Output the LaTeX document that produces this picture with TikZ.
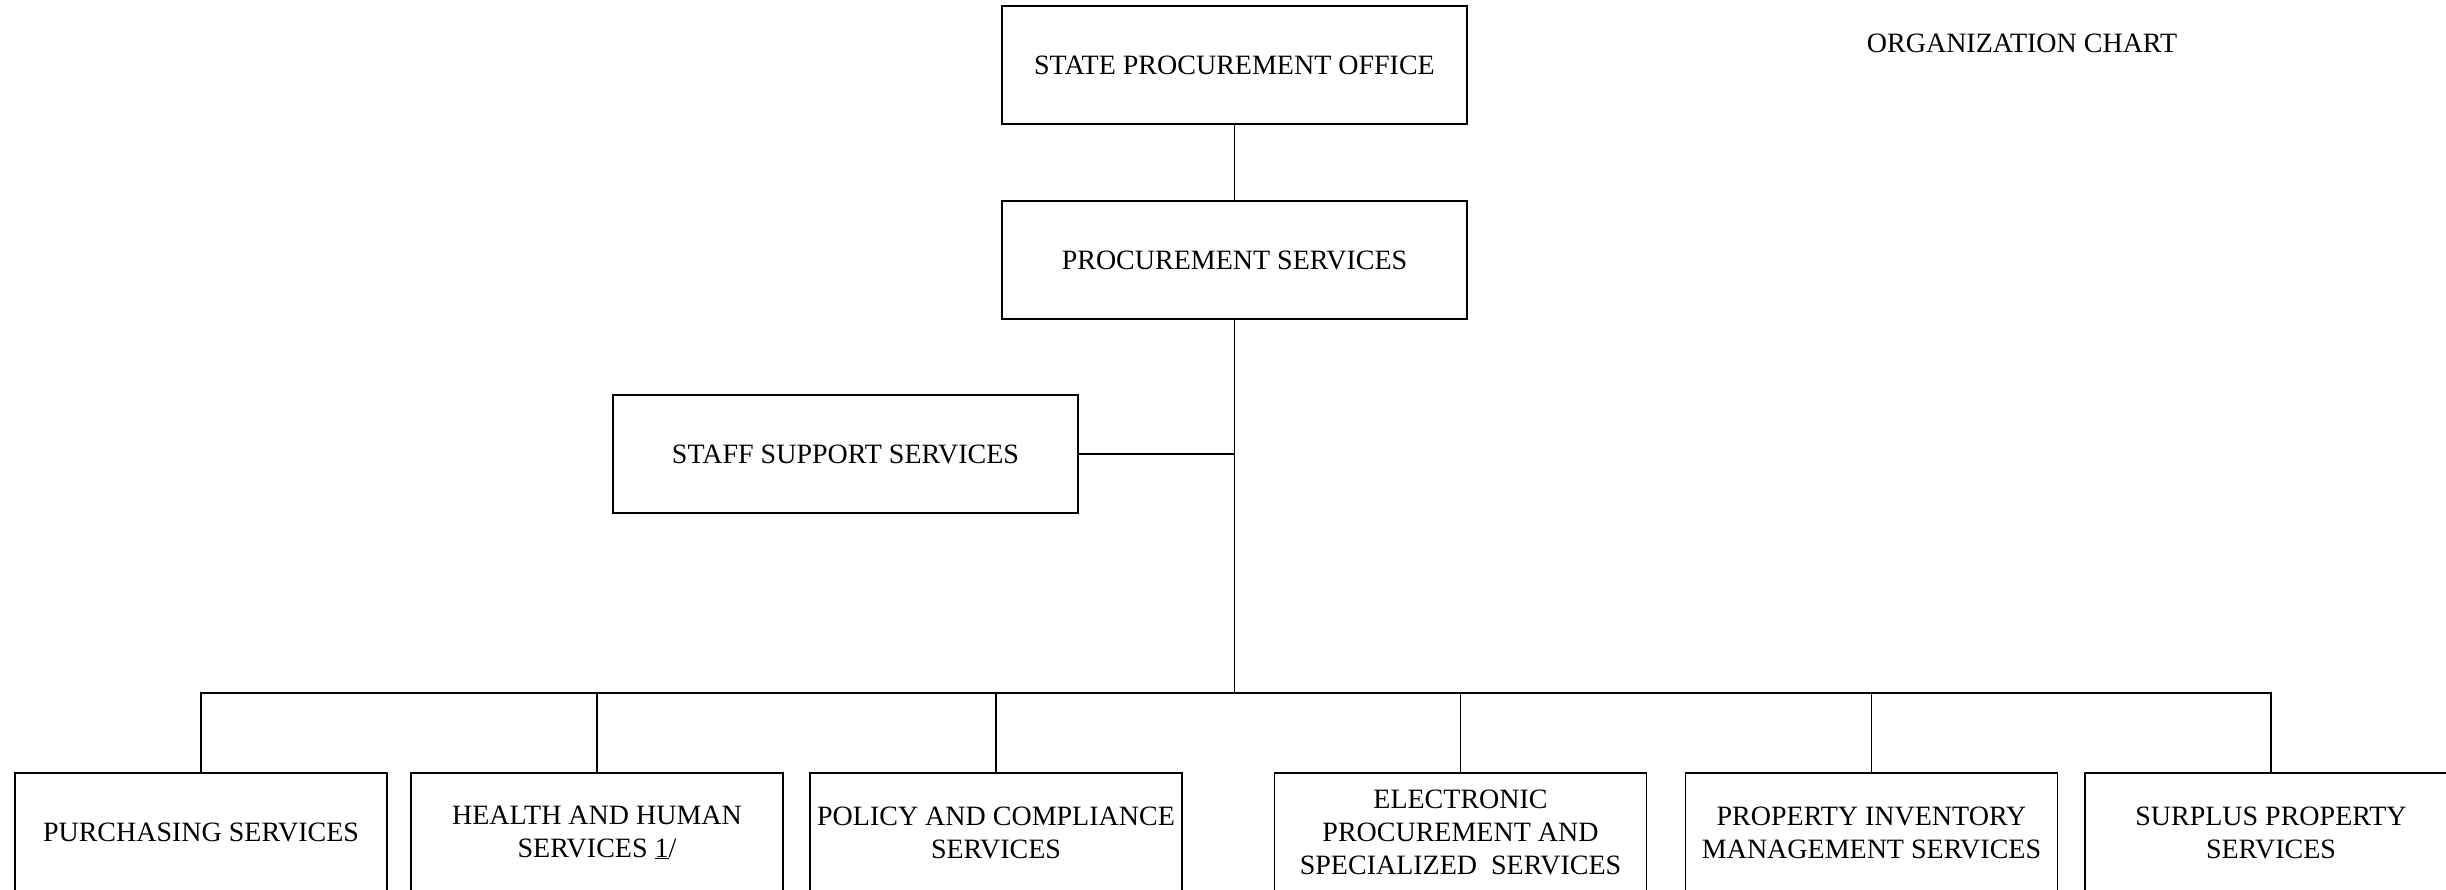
\documentclass[tikz,border=0pt]{standalone}
\usepackage{fontspec}
\setmainfont{Liberation Serif}
\begin{document}
\begin{tikzpicture}[x=1pt,y=-1pt,
  box/.style={draw,rectangle,line width=1.4pt,inner sep=0pt,outer sep=0pt,align=center,
    font=\fontsize{28}{33}\selectfont},
  topbox/.style={box,minimum width=465pt,minimum height=118pt},
  lowbox/.style={box,minimum width=372pt,minimum height=119pt},
  conn/.style={line width=1.4pt}]
\useasboundingbox (0,0) rectangle (2446,890);
\clip (0,0) rectangle (2446,890);
\node[topbox] (spo) at (1234.5,65) {STATE PROCUREMENT OFFICE};
\node[topbox] (ps) at (1234.5,260) {PROCUREMENT SERVICES};
\node[topbox] (staff) at (845.5,454) {STAFF SUPPORT SERVICES};
\node[font=\fontsize{28}{33}\selectfont] (title) at (2022,43) {ORGANIZATION CHART};
\coordinate (bus) at (1234.5,693);
\node[lowbox] (b1) at (201,832.5) {PURCHASING SERVICES};
\node[lowbox] (b2) at (597,832.5) {HEALTH AND HUMAN\\SERVICES \underline{1}/};
\node[lowbox] (b3) at (996,832.5) {POLICY AND COMPLIANCE\\SERVICES};
\node[lowbox] (b4) at (1460.5,832.5) {ELECTRONIC\\PROCUREMENT AND\\SPECIALIZED\ \ SERVICES};
\node[lowbox] (b5) at (1871.5,832.5) {PROPERTY INVENTORY\\MANAGEMENT SERVICES};
\node[lowbox] (b6) at (2271,832.5) {SURPLUS PROPERTY\\SERVICES};
\draw[conn] (spo) -- (ps);
\draw[conn] (ps) -- (bus);
\draw[conn] (staff.east) -- (staff.east -| ps.south);
\draw[conn] (b1.north) -- (b1.north |- bus) -- (b6.north |- bus) -- (b6.north);
\foreach \b in {b2,b3,b4,b5} \draw[conn] (\b.north) -- (\b.north |- bus);
\end{tikzpicture}
\end{document}
